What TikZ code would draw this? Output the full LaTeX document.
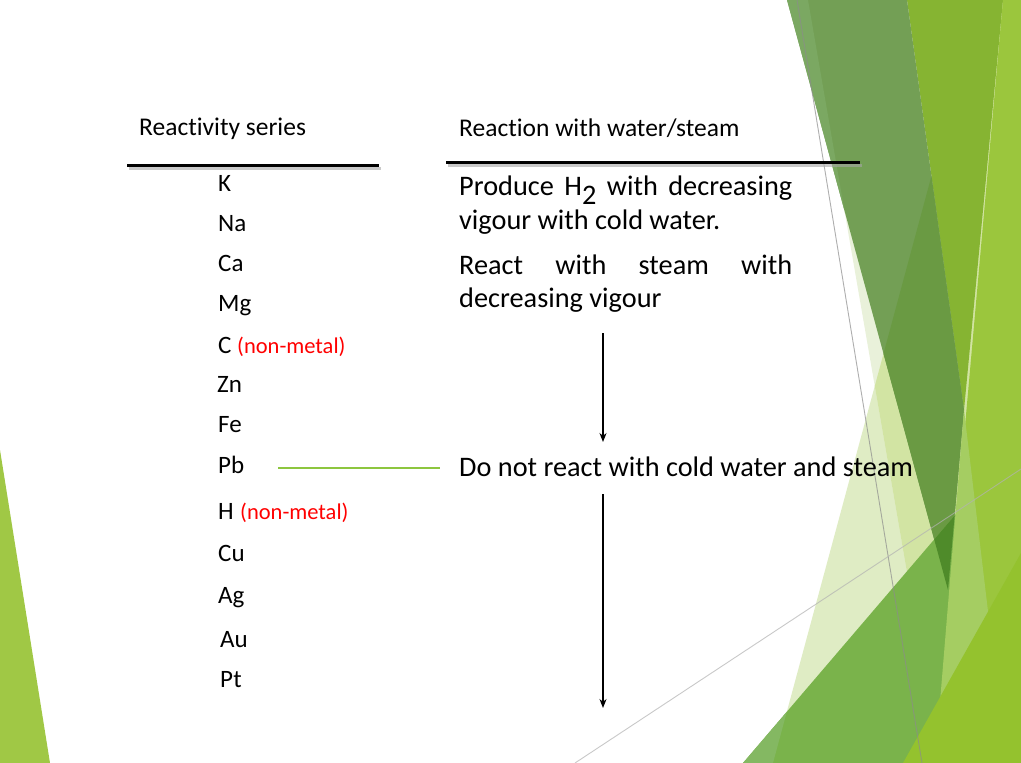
\documentclass[tikz,border=0pt]{standalone}
\usepackage{fontspec}
\setmainfont{Carlito}[Ligatures={NoCommon}]
\usetikzlibrary{arrows.meta}
\definecolor{cPone}{HTML}{DFECC4}
\definecolor{cPtwo}{HTML}{E9F1DA}
\definecolor{cPboth}{HTML}{D2E4A3}
\definecolor{cDw}{HTML}{7BA862}
\definecolor{cDa}{HTML}{739F55}
\definecolor{cDb}{HTML}{6A9A43}
\definecolor{cY}{HTML}{86B432}
\definecolor{cV}{HTML}{9BC63D}
\definecolor{cL}{HTML}{A5CD62}
\definecolor{cMw}{HTML}{84B862}
\definecolor{cM}{HTML}{7AB34B}
\definecolor{cDM}{HTML}{4F8B2A}
\definecolor{cT}{HTML}{94C22E}
\definecolor{cLeft}{HTML}{A0C845}
\definecolor{cGline}{HTML}{8DC63F}
\definecolor{cRed}{HTML}{FF0000}
\def\pPone{(979,0) -- (1021,0) -- (1021,763) -- (773,763) -- cycle}
\def\pPtwo{(808,0) -- (1021,0) -- (1021,763) -- (940,763) -- cycle}
\def\pDark{(787,0) -- (907,0) -- (964,410) -- (948,590) -- cycle}
\def\pMid{(743,763) -- (1021,438) -- (1021,763) -- cycle}
\tikzset{
  elem/.style={anchor=base west, inner sep=0pt, font=\fontsize{25}{30}\selectfont},
  nonmetal/.style={anchor=base west, inner sep=0pt, text=cRed, font=\fontsize{22.5}{27}\selectfont},
  heading/.style={anchor=base west, inner sep=0pt, font=\fontsize{25.5}{30}\selectfont},
  rtext/.style={anchor=base west, inner sep=0pt, font=\fontsize{28.3}{34}\selectfont},
  rule/.style={line width=3pt, black},
  ruleshadow/.style={line width=3pt, black!35, opacity=0.6},
  arr/.style={line width=1.3pt, -{Stealth[length=9pt,width=7pt]}},
  greenline/.style={line width=1.2pt, cGline},
  grayline/.style={line width=0.9pt, black!45, opacity=0.7}
}
\begin{document}
\begin{tikzpicture}[x=1pt,y=-1pt]
\useasboundingbox (0,0) rectangle (1021,763);
\fill[white] (0,0) rectangle (1021,763);
\begin{scope}
\clip (0,0) rectangle (1021,763);
% pale translucent facets
\fill[cPone] \pPone;
\fill[cPtwo] \pPtwo;
\begin{scope}\clip \pPone; \fill[cPboth] \pPtwo; \end{scope}
% top yellow-green facet
\fill[cY] (907,0) -- (1003,0) -- (964,410) -- cycle;
% dark green facet
\fill[cDa] \pDark;
\begin{scope}\clip (0,0) -- (808,0) -- (940,763) -- (0,763) -- cycle; \fill[cDw] \pDark; \end{scope}
\begin{scope}\clip \pPone; \fill[cDb] \pDark; \end{scope}
% mid green facet
\fill[cM] \pMid;
\begin{scope}\clip (0,0) -- (979,0) -- (773,763) -- (0,763) -- cycle; \fill[cMw] \pMid; \end{scope}
\begin{scope}\clip \pMid; \fill[cDM] \pDark; \end{scope}
% lime vertical facet
\fill[cV] (1003,0) -- (1021,0) -- (1021,763) -- (935,763) -- cycle;
\fill[cL] (964,410) -- (995,670) -- (935,763) -- cycle;
% bottom right lime triangle
\fill[cT] (903,763) -- (1021,553) -- (1021,763) -- cycle;
% left lime triangle
\fill[cLeft] (0,450) -- (50,763) -- (0,763) -- cycle;
% thin gray lines
\draw[grayline] (797,0) -- (922,763);
\draw[grayline, black!30] (575,763) -- (1021,469);
\end{scope}

% headings and rules
\node[heading] (h1) at (139,135) {Reactivity series};
\node[heading] (h2) at (459,136) {Reaction with water/steam};
\coordinate (r1a) at (127,165); \coordinate (r1b) at (379,165);
\coordinate (r2a) at (446,162); \coordinate (r2b) at (860,162);
\coordinate (s1a) at (129,168); \coordinate (s1b) at (381,168);
\coordinate (s2a) at (448,165); \coordinate (s2b) at (862,165);
\draw[ruleshadow] (s1a) -- (s1b);
\draw[ruleshadow] (s2a) -- (s2b);
\draw[rule] (r1a) -- (r1b);
\draw[rule] (r2a) -- (r2b);

% reactivity series
\node[elem] (K)  at (218,191) {K};
\node[elem] (Na) at (218,231) {Na};
\node[elem] (Ca) at (218,271) {Ca};
\node[elem] (Mg) at (218,311) {Mg};
\node[elem] (C)  at (218,353) {C};
\node[nonmetal] (Cn) at (237,353) {(non-metal)};
\node[elem] (Zn) at (217,392) {Zn};
\node[elem] (Fe) at (218,432) {Fe};
\node[elem] (Pb) at (218,473) {Pb};
\node[elem] (H)  at (218,519) {H};
\node[nonmetal] (Hn) at (240,519) {(non-metal)};
\node[elem] (Cu) at (218,561) {Cu};
\node[elem] (Ag) at (218,603) {Ag};
\node[elem] (Au) at (220,647) {Au};
\node[elem] (Pt) at (220,687) {Pt};

% reactions
\node[rtext] (t1) at (459,195) {\makebox[333pt][s]{Produce H\smash{\raisebox{-9.5pt}{2}} with decreasing}};
\node[rtext] (t2) at (459,229) {vigour with cold water.};
\node[rtext] (t3) at (459,274) {\makebox[333pt][s]{React with steam with}};
\node[rtext] (t4) at (459,307) {decreasing vigour};
\node[rtext] (t5) at (459,476) {Do not react with cold water and steam};

% green connector
\coordinate (g1) at (278,468); \coordinate (g2) at (440,468);
\draw[greenline] (g1) -- (g2);

% arrows
\coordinate (a1s) at (603,333); \coordinate (a1e) at (603,442);
\coordinate (a2s) at (603,494); \coordinate (a2e) at (603,708);
\draw[arr] (a1s) -- (a1e);
\draw[arr] (a2s) -- (a2e);
\end{tikzpicture}
\end{document}
